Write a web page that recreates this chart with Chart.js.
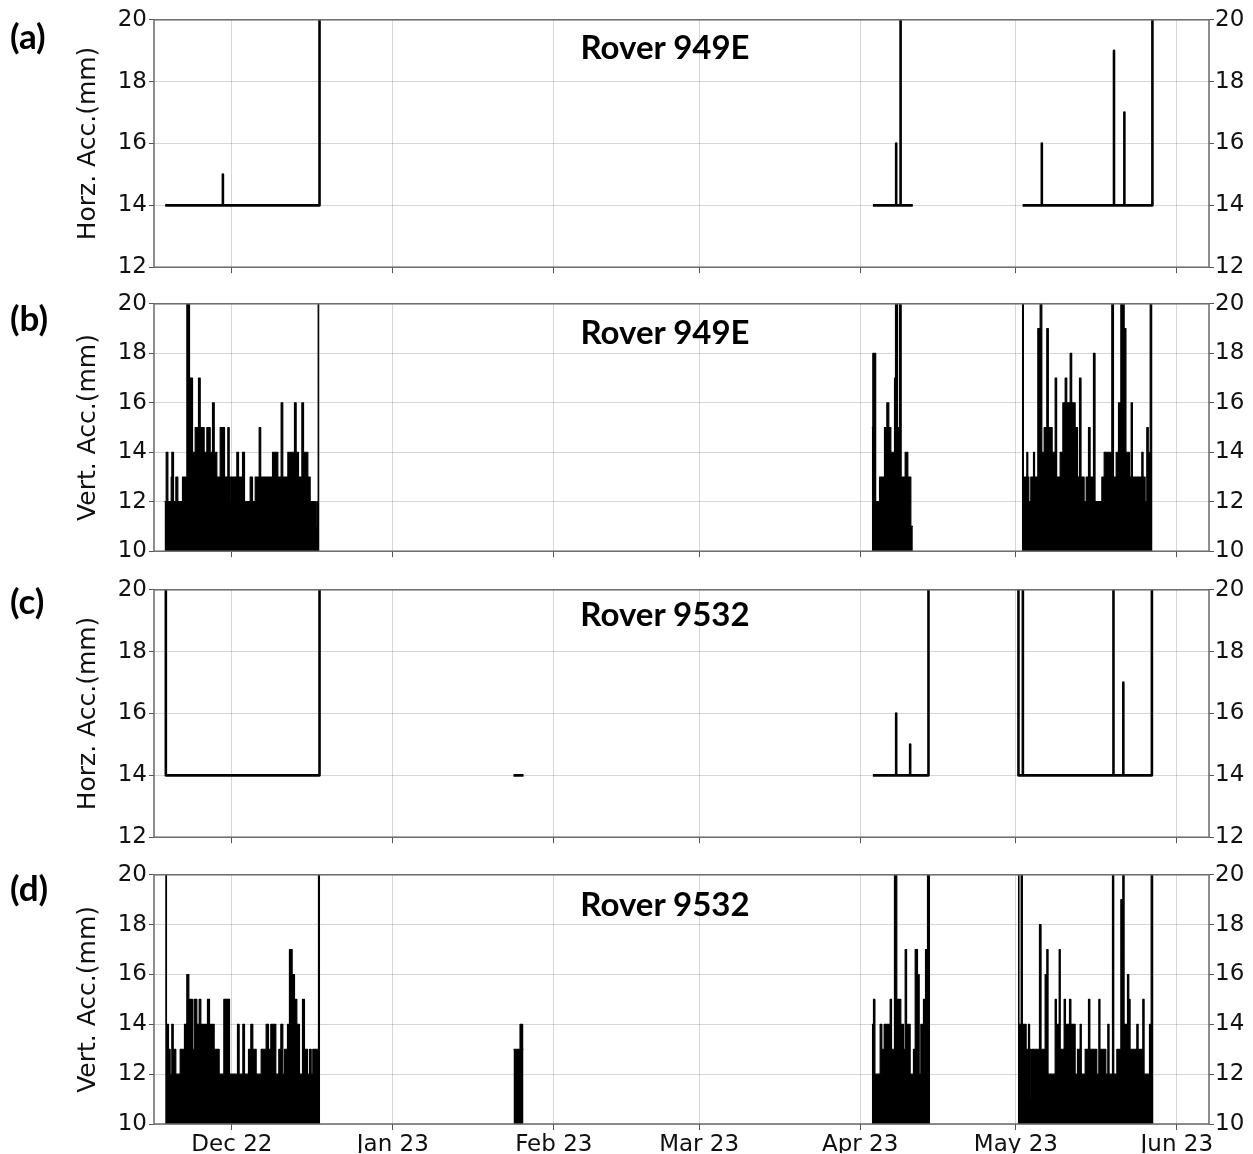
<!DOCTYPE html>
<html>
<head>
<meta charset="utf-8">
<script src="https://cdn.jsdelivr.net/npm/chart.js"></script>
<style>
  body { margin: 0; background: #fff; }
  #page { position: relative; width: 1253px; height: 1154px; overflow: hidden; }
  canvas { position: absolute; left: 0; }
  .tag { position: absolute; left: 10px; font: bold 35px Lato, sans-serif; transform: translateY(-50%); color: #000; }
  .rover { position: absolute; left: 665px; font: bold 33px Lato, sans-serif; transform: translate(-50%, -50%); white-space: nowrap; color: #000; }
</style>
</head>
<body>
<div id="page">
  <canvas id="pa" width="1253" height="279" style="top:4px"></canvas>
  <canvas id="pb" width="1253" height="279" style="top:288px"></canvas>
  <canvas id="pc" width="1253" height="279" style="top:574px"></canvas>
  <canvas id="pd" width="1253" height="294" style="top:859px"></canvas>

  <div class="tag" style="top:35px">(a)</div>
  <div class="tag" style="top:317px">(b)</div>
  <div class="tag" style="top:600px">(c)</div>
  <div class="tag" style="top:887px">(d)</div>

  <div class="rover" style="top:46px">Rover 949E</div>
  <div class="rover" style="top:331px">Rover 949E</div>
  <div class="rover" style="top:613px">Rover 9532</div>
  <div class="rover" style="top:903px">Rover 9532</div>
</div>
<script>
// x is days since 1 Dec 2022
const monthDays = [0, 31, 62, 90, 121, 151, 182];
const monthLabels = ['Dec 22', 'Jan 23', 'Feb 23', 'Mar 23', 'Apr 23', 'May 23', 'Jun 23'];
const dayMin = -15.0, dayMax = 188.2;

// horizontal accuracy, Rover 949E  [day, mm]
const horz949Dec = [[-12.85,14],[-1.73,14],[-1.73,15],[-1.73,14],[16.88,14],[16.88,25]];
const horz949Apr = [[123.46,14],[127.95,14],[127.95,16],[127.95,14],[128.8,14],[128.8,25],[128.8,14],[131.15,14]];
const horz949May = [[152.3,14],[156.0,14],[156.0,16],[156.0,14],[169.9,14],[169.9,19],[169.9,14],[171.9,14],[171.9,17],[171.9,14],[177.3,14],[177.3,25]];

// vertical accuracy, Rover 949E  [day, mm] (each value holds until the next day)
const vert949Dec = [[-12.97,12],[-12.65,14],[-12.33,12],[-11.69,13],[-11.56,14],[-11.24,12],[-10.79,13],[-10.41,12],[-9.51,13],[-8.67,25],[-8.16,17],[-7.58,14],[-7.07,15],[-6.43,17],[-6.1,15],[-5.34,14],[-4.82,15],[-4.18,14],[-3.73,16],[-3.4,14],[-2.90,13],[-2.25,15],[-1.42,13],[-0.78,15],[-0.52,12],[-0.33,13],[0.96,14],[1.28,13],[2.05,14],[2.43,12],[3.52,13],[3.97,12],[4.49,13],[5.26,15],[5.55,13],[7.83,14],[8.85,13],[9.49,16],[9.8,13],[10.78,14],[12.06,16],[12.38,14],[12.83,13],[13.48,16],[13.8,14],[14.63,13],[15.08,12],[16.11,11],[16.36,12],[16.62,25],[16.88,25]];
const vert949Apr = [[123.26,15],[123.45,18],[124.0,12],[124.74,13],[125.70,15],[126.15,16],[126.53,15],[126.92,14],[127.63,17],[127.82,25],[128.20,15],[128.59,25],[128.91,13],[129.68,14],[130.19,13],[130.77,11],[131.16,11]];
const vert949May = [[152.15,25],[152.45,13],[153.11,14],[153.30,13],[153.50,12],[153.88,13],[154.40,14],[154.60,13],[155.23,19],[155.68,25],[156.00,14],[156.45,15],[156.96,19],[157.25,15],[157.99,14],[158.57,17],[158.85,13],[159.53,14],[160.05,16],[160.50,17],[160.80,16],[161.46,18],[161.75,16],[162.42,15],[162.87,13],[163.26,17],[163.55,13],[164.15,12],[164.54,13],[164.99,15],[165.30,13],[165.95,18],[166.25,12],[167.56,13],[168.01,14],[169.48,25],[169.80,13],[170.32,14],[170.77,16],[171.22,25],[171.86,19],[172.20,14],[172.89,13],[173.21,16],[173.45,13],[175.26,14],[175.50,13],[175.90,12],[176.22,15],[176.50,14],[176.87,25],[177.32,25]];

// horizontal accuracy, Rover 9532
const horz9532Dec = [[-12.72,25],[-12.72,14],[16.88,14],[16.88,25]];
const horz9532Feb = [[54.24,14],[56.17,14]];
const horz9532Apr = [[123.46,14],[127.95,14],[127.95,16],[127.95,14],[130.64,14],[130.64,15],[130.64,14],[134.17,14],[134.17,25]];
const horz9532May = [[151.5,25],[151.5,14],[152.35,14],[152.35,25],[152.35,14],[169.8,14],[169.8,25],[169.8,14],[171.7,14],[171.7,17],[171.7,14],[177.2,14],[177.2,25]];

// vertical accuracy, Rover 9532
const vert9532Dec = [[-12.85,25],[-12.6,14],[-12.21,13],[-11.89,12],[-11.57,14],[-11.3,13],[-10.80,12],[-9.96,13],[-9.13,14],[-8.68,16],[-8.29,15],[-7.59,13],[-7.27,15],[-6.75,14],[-6.30,15],[-5.98,14],[-4.70,15],[-4.31,14],[-3.41,13],[-2.45,12],[-1.55,15],[-0.46,12],[1.08,14],[1.40,12],[2.11,14],[2.43,12],[3.20,13],[3.65,14],[4.03,13],[4.68,12],[5.64,13],[6.60,14],[7.05,13],[7.50,14],[8.46,12],[9.04,13],[9.43,14],[9.81,12],[10.13,13],[10.71,14],[11.09,17],[11.61,16],[12.06,15],[12.51,14],[13.02,12],[13.60,15],[13.98,13],[14.56,12],[14.95,13],[15.27,12],[15.59,13],[16.68,25],[17.00,25]];
const vert9532Feb = [[54.24,13],[55.5,14],[56.0,13],[56.17,13]];
const vert9532Apr = [[123.26,14],[123.58,15],[123.85,12],[124.86,14],[125.19,13],[125.63,14],[126.79,15],[127.05,13],[127.62,25],[128.07,15],[128.84,14],[129.36,13],[129.68,17],[129.95,14],[130.64,12],[131.28,13],[131.61,17],[132.05,16],[132.38,12],[132.70,14],[133.21,15],[133.60,17],[133.98,25],[134.49,25]];
const vert9532May = [[151.38,25],[151.6,14],[152.02,25],[152.25,14],[152.98,13],[153.43,14],[153.65,13],[153.88,11],[154.05,13],[155.55,18],[155.85,13],[156.64,16],[156.96,17],[157.20,12],[158.57,15],[158.80,14],[159.34,17],[159.55,13],[160.30,15],[160.55,14],[161.33,15],[161.60,14],[162.42,12],[162.87,13],[163.38,14],[163.60,12],[164.35,13],[164.99,15],[165.25,13],[166.59,12],[166.98,15],[167.20,13],[168.33,12],[168.71,14],[168.95,12],[169.61,25],[169.85,12],[170.45,13],[171.22,19],[171.60,25],[171.85,14],[172.50,16],[172.75,15],[173.00,13],[174.30,14],[174.55,13],[174.75,11],[174.9,13],[175.45,15],[175.70,12],[176.74,14],[177.06,25],[177.51,25]];

Chart.defaults.font.family = 'DejaVu Sans';
Chart.defaults.font.size = 23;
Chart.defaults.color = '#111';

const gridColor = 'rgba(0,0,0,0.16)';
const tickColor = '#555';

// box round the plot area, like matplotlib spines
const frame = {
  id: 'frame',
  afterDatasetsDraw(chart) {
    const {ctx, chartArea: a} = chart;
    ctx.save();
    ctx.strokeStyle = '#6a6a6a';
    ctx.lineWidth = 1.5;
    ctx.strokeRect(a.left, a.top, a.right - a.left, a.bottom - a.top);
    ctx.restore();
  }
};

function drawPanel(id, series, yMin, yTitle, dense, showDates) {
  const datasets = series.map(s => ({
    data: s.map(p => ({x: p[0], y: p[1]})),
    borderColor: '#000',
    backgroundColor: '#000',
    borderWidth: dense ? 1.2 : 2.6,
    borderJoinStyle: 'round',
    pointRadius: 0,
    stepped: dense ? 'before' : false,
    fill: dense ? 'start' : false,
    tension: 0
  }));

  new Chart(document.getElementById(id), {
    type: 'line',
    data: {datasets: datasets},
    options: {
      responsive: false,
      animation: false,
      layout: {padding: {top: 14, left: 0, right: 0, bottom: 0}},
      plugins: {legend: {display: false}, tooltip: {enabled: false}},
      scales: {
        x: {
          type: 'linear',
          min: dayMin,
          max: dayMax,
          afterBuildTicks: s => { s.ticks = monthDays.map(v => ({value: v})); },
          afterFit: s => { s.height = showDates ? 29 : 14; },
          grid: {color: gridColor, tickColor: tickColor, tickLength: 6},
          border: {display: false},
          ticks: {
            display: showDates, padding: 1, maxRotation: 0, autoSkip: false,
            callback: v => monthLabels[monthDays.indexOf(v)]
          }
        },
        y: {
          position: 'left',
          min: yMin,
          max: 20,
          afterFit: s => { s.width = 154; },
          grid: {color: gridColor, tickColor: tickColor, tickLength: 5},
          border: {display: false},
          ticks: {stepSize: 2, padding: 2},
          title: {display: true, text: yTitle, font: {size: 25}, padding: {top: 73, bottom: 0}}
        },
        y2: {
          position: 'right',
          min: yMin,
          max: 20,
          afterFit: s => { s.width = 44; },
          grid: {drawOnChartArea: false, tickColor: tickColor, tickLength: 5},
          border: {display: false},
          ticks: {stepSize: 2, padding: 1}
        }
      }
    },
    plugins: [frame]
  });
}

drawPanel('pa', [horz949Dec, horz949Apr, horz949May], 12, 'Horz. Acc.(mm)', false, false);
drawPanel('pb', [vert949Dec, vert949Apr, vert949May], 10, 'Vert. Acc.(mm)', true, false);
drawPanel('pc', [horz9532Dec, horz9532Feb, horz9532Apr, horz9532May], 12, 'Horz. Acc.(mm)', false, false);
drawPanel('pd', [vert9532Dec, vert9532Feb, vert9532Apr, vert9532May], 10, 'Vert. Acc.(mm)', true, true);
</script>
</body>
</html>
